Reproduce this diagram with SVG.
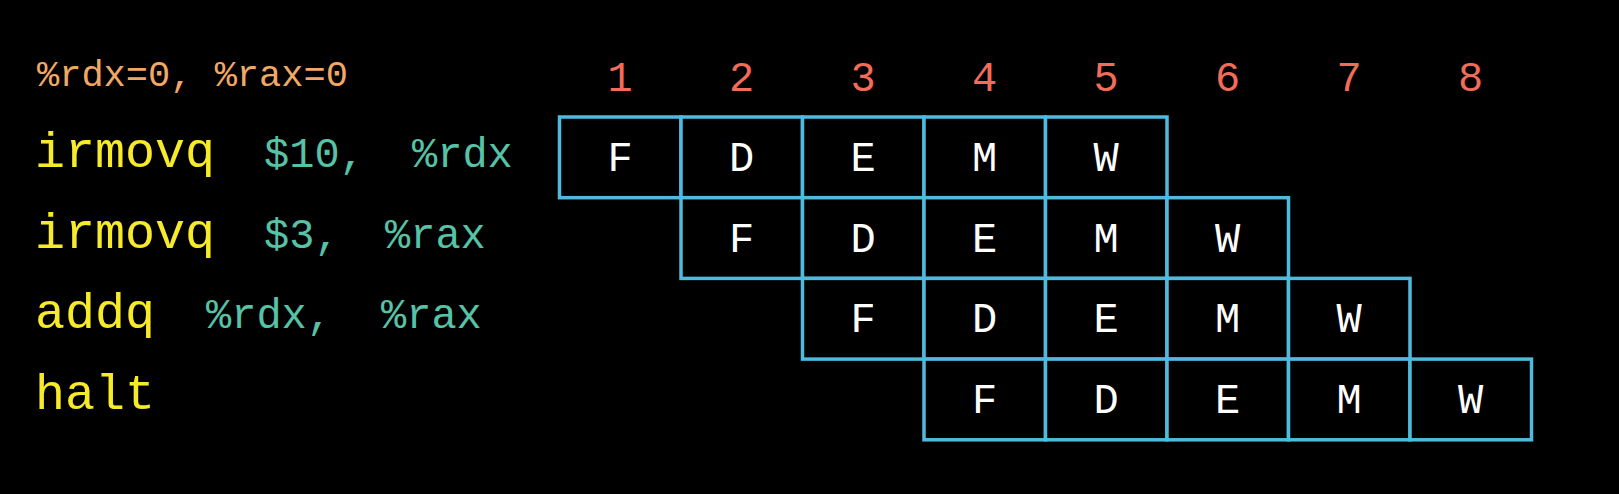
<svg xmlns="http://www.w3.org/2000/svg" width="1619" height="494" viewBox="0 0 1619 494">
<style>
text{font-family:"Liberation Mono","DejaVu Sans Mono",monospace;}
.init{fill:#f2a865;font-size:37px;}
.op{fill:#f7ea2a;font-size:50px;}
.arg{fill:#56c2a6;font-size:42px;}
.num{fill:#f26c58;font-size:42px;text-anchor:middle;}
.cell rect{fill:#000;stroke:#4fbadd;stroke-width:3.5;}
.cell text{fill:#fff;font-size:42px;text-anchor:middle;}
</style>
<rect width="1619" height="494" fill="#000"/>
<text class="init" x="37" y="86">%rdx=0, %rax=0</text>
<g id="cycles">
<text class="num" x="620" y="91">1</text>
<text class="num" x="741.5" y="91">2</text>
<text class="num" x="863" y="91">3</text>
<text class="num" x="984.5" y="91">4</text>
<text class="num" x="1106" y="91">5</text>
<text class="num" x="1227.5" y="91">6</text>
<text class="num" x="1349" y="91">7</text>
<text class="num" x="1470.5" y="91">8</text>
</g>
<g id="instr1"><text class="op" x="35" y="167">irmovq</text><text class="arg" x="264" y="167">$10,</text><text class="arg" x="412" y="167">%rdx</text></g>
<g id="instr2"><text class="op" x="35" y="248">irmovq</text><text class="arg" x="264" y="248">$3,</text><text class="arg" x="385" y="248">%rax</text></g>
<g id="instr3"><text class="op" x="35" y="328">addq</text><text class="arg" x="206" y="328">%rdx,</text><text class="arg" x="381" y="328">%rax</text></g>
<g id="instr4"><text class="op" x="35" y="409">halt</text></g>
<g id="row1">
<g class="cell" id="r1c1"><rect x="559.5" y="117" width="121.5" height="80.7"/><text x="620.2" y="171">F</text></g>
<g class="cell" id="r1c2"><rect x="681" y="117" width="121.5" height="80.7"/><text x="741.7" y="171">D</text></g>
<g class="cell" id="r1c3"><rect x="802.5" y="117" width="121.5" height="80.7"/><text x="863.2" y="171">E</text></g>
<g class="cell" id="r1c4"><rect x="924" y="117" width="121.5" height="80.7"/><text x="984.7" y="171">M</text></g>
<g class="cell" id="r1c5"><rect x="1045.5" y="117" width="121.5" height="80.7"/><text x="1106.2" y="171">W</text></g>
</g>
<g id="row2">
<g class="cell" id="r2c2"><rect x="681" y="197.7" width="121.5" height="80.7"/><text x="741.7" y="251.7">F</text></g>
<g class="cell" id="r2c3"><rect x="802.5" y="197.7" width="121.5" height="80.7"/><text x="863.2" y="251.7">D</text></g>
<g class="cell" id="r2c4"><rect x="924" y="197.7" width="121.5" height="80.7"/><text x="984.7" y="251.7">E</text></g>
<g class="cell" id="r2c5"><rect x="1045.5" y="197.7" width="121.5" height="80.7"/><text x="1106.2" y="251.7">M</text></g>
<g class="cell" id="r2c6"><rect x="1167" y="197.7" width="121.5" height="80.7"/><text x="1227.7" y="251.7">W</text></g>
</g>
<g id="row3">
<g class="cell" id="r3c3"><rect x="802.5" y="278.4" width="121.5" height="80.7"/><text x="863.2" y="332.4">F</text></g>
<g class="cell" id="r3c4"><rect x="924" y="278.4" width="121.5" height="80.7"/><text x="984.7" y="332.4">D</text></g>
<g class="cell" id="r3c5"><rect x="1045.5" y="278.4" width="121.5" height="80.7"/><text x="1106.2" y="332.4">E</text></g>
<g class="cell" id="r3c6"><rect x="1167" y="278.4" width="121.5" height="80.7"/><text x="1227.7" y="332.4">M</text></g>
<g class="cell" id="r3c7"><rect x="1288.5" y="278.4" width="121.5" height="80.7"/><text x="1349.2" y="332.4">W</text></g>
</g>
<g id="row4">
<g class="cell" id="r4c4"><rect x="924" y="359.1" width="121.5" height="80.7"/><text x="984.7" y="413.1">F</text></g>
<g class="cell" id="r4c5"><rect x="1045.5" y="359.1" width="121.5" height="80.7"/><text x="1106.2" y="413.1">D</text></g>
<g class="cell" id="r4c6"><rect x="1167" y="359.1" width="121.5" height="80.7"/><text x="1227.7" y="413.1">E</text></g>
<g class="cell" id="r4c7"><rect x="1288.5" y="359.1" width="121.5" height="80.7"/><text x="1349.2" y="413.1">M</text></g>
<g class="cell" id="r4c8"><rect x="1410" y="359.1" width="121.5" height="80.7"/><text x="1470.7" y="413.1">W</text></g>
</g>
<g id="connectors"/>
</svg>
